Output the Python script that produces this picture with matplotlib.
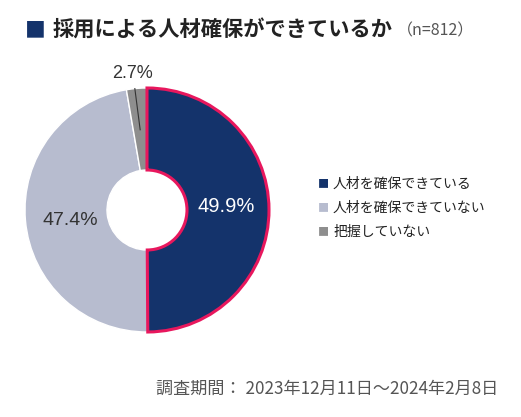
import numpy as np
import matplotlib

matplotlib.use("agg")
import matplotlib.pyplot as plt

plt.rcParams["font.family"] = ["Noto Sans CJK JP", "DejaVu Sans"]

labels = ["人材を確保できている", "人材を確保できていない", "把握していない"]
shares = [49.9, 47.4, 2.7]
colors = ["#14336b", "#b7bccf", "#8e8e8e"]
title = "採用による人材確保ができているか"
n_note = "（n=812）"
period = "調査期間： 2023年12月11日～2024年2月8日"

W, H = 521, 417
fig = plt.figure(figsize=(W / 100, H / 100), dpi=100)

# pie centre / radius in pixels
cx, cy, r_px = 147, 210, 122
lim = 1.3
side = 2 * lim * r_px
ax = fig.add_axes([(cx - side / 2) / W, (H - cy - side / 2) / H, side / W, side / H])

wedges, _ = ax.pie(
    shares,
    colors=colors,
    startangle=90,
    counterclock=False,
    radius=1.0,
    wedgeprops=dict(width=1 - 40 / 122, edgecolor="white", linewidth=1),
)
wedges[0].set_edgecolor("#e8175d")
wedges[0].set_linewidth(2.2)
wedges[0].set_zorder(5)
ax.set_xlim(-lim, lim)
ax.set_ylim(-lim, lim)
ax.set_aspect("equal")
ax.axis("off")

num_font = ["Liberation Sans", "DejaVu Sans"]

# percent labels
def mid_angle(w):
    return np.deg2rad((w.theta1 + w.theta2) / 2)

a0 = mid_angle(wedges[0])
ax.text(0.65 * np.cos(a0), 0.65 * np.sin(a0) + 0.03, f"{shares[0]}%",
        color="white", fontsize=14.5, ha="center", va="center", family=num_font, zorder=6)
a1 = mid_angle(wedges[1])
ax.text(0.63 * np.cos(a1), 0.63 * np.sin(a1) - 0.03, f"{shares[1]}%",
        color="#333333", fontsize=14, ha="center", va="center", family=num_font)
a2 = mid_angle(wedges[2])
ax.plot([0.66 * np.cos(a2), 1.0 * np.cos(a2 + 0.015)],
        [0.66 * np.sin(a2), 1.0 * np.sin(a2 + 0.015)], color="#333333", lw=0.8, zorder=7)
ax.text(1.125 * np.cos(a2 + 0.02), 1.125 * np.sin(a2 + 0.02), f"{shares[2]}%",
        color="#333333", fontsize=13, ha="center", va="center", family=num_font)

# title
fig.text(25 / W, 1 - 30 / H, "■", color="#14336b", fontsize=15, va="center", ha="left")
fig.text(53 / W, 1 - 30 / H, title, color="#222222", fontsize=15.3, fontweight="bold",
         va="center", ha="left")
fig.text(397 / W, 1 - 31 / H, n_note, color="#555555", fontsize=11.5, va="center", ha="left")

# legend
for i, (lab, col) in enumerate(zip(labels, colors)):
    y = 1 - (184 + 24 * i) / H
    fig.text(318 / W, y, "■", color=col, fontsize=8, va="center", ha="left")
    fig.text(333 / W, y, lab, color="#222222", fontsize=10, va="center", ha="left")

# footer
fig.text(498 / W, 1 - 389 / H, period, color="#555555", fontsize=12.3, va="center", ha="right")

fig.savefig("out.png", dpi=100)
